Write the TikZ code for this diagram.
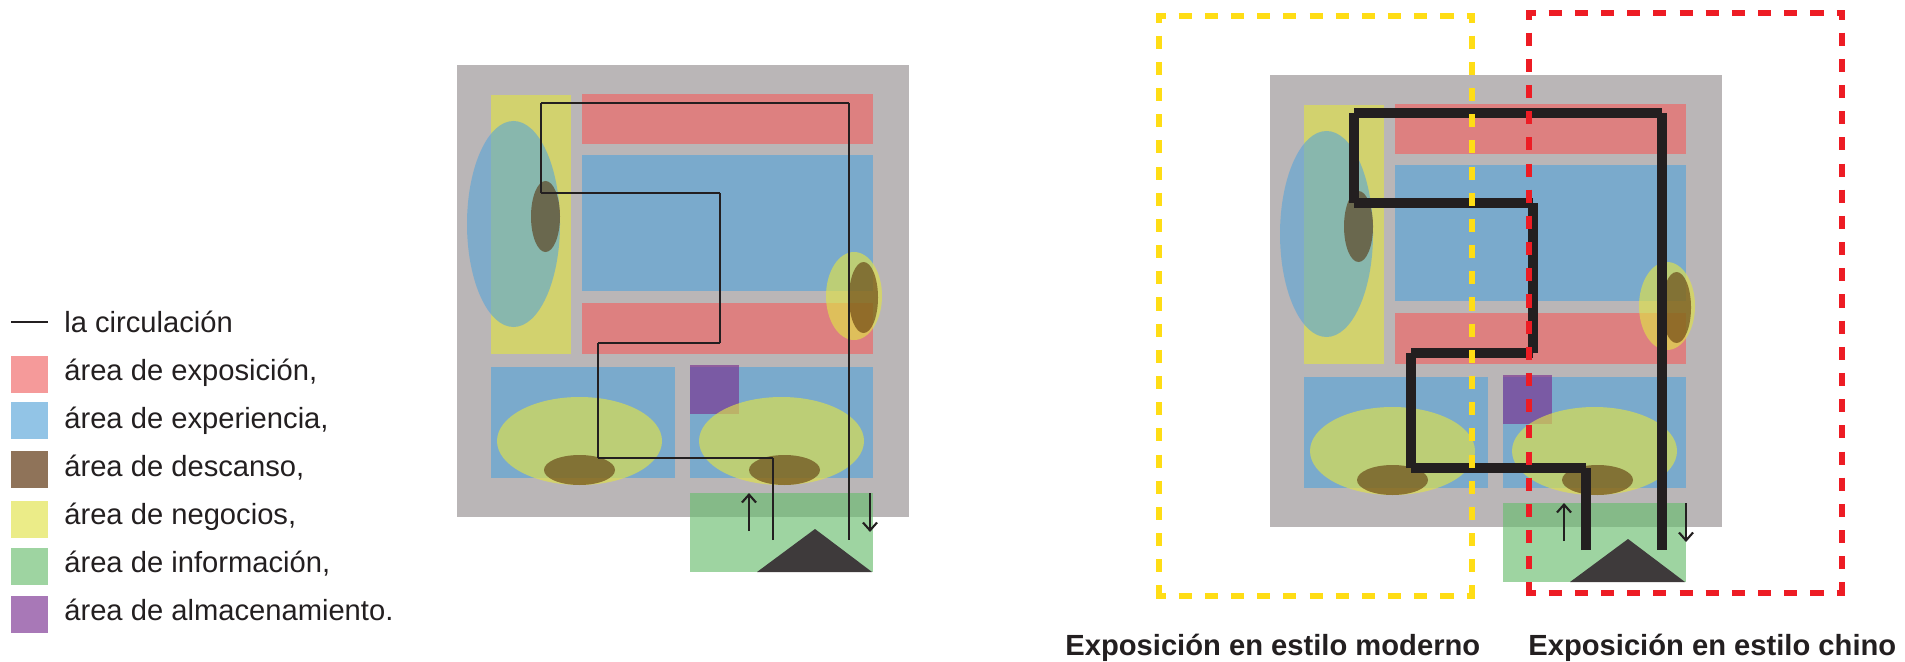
\documentclass[tikz,border=0pt]{standalone}
\usepackage{fontspec}
\setmainfont{Liberation Sans}
\usetikzlibrary{arrows.meta}
\definecolor{plangray}{HTML}{BAB6B7}
\definecolor{expored}{HTML}{F06464}
\definecolor{expblue}{HTML}{58A5D8}
\definecolor{restbrown}{HTML}{532800}
\definecolor{shopyellow}{HTML}{E0E248}
\definecolor{infogreen}{HTML}{6ABD6F}
\definecolor{storepurple}{HTML}{7A3090}
\definecolor{routeblack}{HTML}{231F20}
\definecolor{roofgray}{HTML}{3E3A3B}
\definecolor{framered}{HTML}{ED1C24}
\definecolor{frameyellow}{HTML}{FFDD15}
\tikzset{
  zone/.style={fill=#1, fill opacity=0.65, draw=none},
  softzone/.style={fill=#1, fill opacity=0.6, draw=none},
  restzone/.style={fill=restbrown, fill opacity=0.55, draw=none},
  route/.style={draw=routeblack, line width=#1},
  flow/.style={draw=routeblack, line width=1.2pt, -{Straight Barb[length=4.5pt,width=8pt]}},
  frame/.style={draw=#1, line width=3.1pt, dash pattern=on 7.45pt off 7.45pt, dash phase=2.16pt,
                shorten <=-1.56pt, shorten >=-1.56pt},
  legendtext/.style={anchor=base west, inner sep=0pt, font=\fontsize{16.6}{20}\selectfont, text=routeblack},
  titletext/.style={anchor=base west, inner sep=0pt, font=\fontsize{16.6}{20}\selectfont\bfseries, text=routeblack}
}

\begin{document}
\begin{tikzpicture}[x=0.02cm, y=-0.02cm]
    \useasboundingbox (0,0) rectangle (1905,662);

    % legend
    \coordinate (linestart) at (11,322);
    \coordinate (lineend) at (48,322);
    \draw[route=1.4pt] (linestart) -- (lineend);
    \node[legendtext] (circulacion) at (64,332) {la circulación};
    \foreach \top/\col/\base/\name in {356/expored/380/{área de exposición,},
                                       402/expblue/428/{área de experiencia,},
                                       451/restbrown/476/{área de descanso,},
                                       501/shopyellow/524/{área de negocios,},
                                       548/infogreen/572/{área de información,},
                                       596/storepurple/620/{área de almacenamiento.}} {
        \fill[zone=\col] (11,\top) rectangle +(37,37);
        \node[legendtext] at (64,\base) {\name};
    }

    % both floor plans
    \foreach \dx/\dy/\routew/\inx/\outx in {0/0/1.3pt/749/870, 813/10/6.1pt/751/873} {
        \begin{scope}[shift={(\dx,\dy)}]
            \fill[plangray] (457,65) rectangle (909,517);
            \fill[zone=shopyellow] (491,95) rectangle (571,354);
            \fill[zone=expored] (582,94) rectangle (873,144);
            \fill[zone=expblue] (582,155) rectangle (873,291);
            \fill[zone=expored] (582,303) rectangle (873,354);
            \fill[zone=expblue] (491,367) rectangle (675,478);
            \fill[zone=expblue] (690,367) rectangle (873,478);
            \fill[zone=storepurple] (690,365) rectangle (739,414);
            \fill[softzone=expblue] (513.5,224) ellipse [x radius=46.5, y radius=103];
            \fill[zone=shopyellow] (854,296) ellipse [x radius=28, y radius=44];
            \fill[zone=shopyellow] (579.5,441) ellipse [x radius=82.5, y radius=44];
            \fill[zone=shopyellow] (781.5,441) ellipse [x radius=82.5, y radius=44];
            \fill[restzone] (545.5,216.5) ellipse [x radius=14.5, y radius=35.5];
            \fill[restzone] (863.5,297.5) ellipse [x radius=14.5, y radius=35.5];
            \fill[restzone] (579.5,470) ellipse [x radius=35.5, y radius=15];
            \fill[restzone] (784.5,470) ellipse [x radius=35.5, y radius=15];
            \fill[zone=infogreen] (690,493) rectangle (873,572);
            \fill[roofgray] (757,572) -- (815,529) -- (872,572) -- cycle;

            % circulation, each leg on its own
            \coordinate (r1) at (773,540);
            \coordinate (r2) at (773,458);
            \coordinate (r3) at (598,458);
            \coordinate (r4) at (598,343);
            \coordinate (r5) at (720,343);
            \coordinate (r6) at (720,193);
            \coordinate (r7) at (541,193);
            \coordinate (r8) at (541,103);
            \coordinate (r9) at (849,103);
            \coordinate (r10) at (849,540);
            \draw[route=\routew] (r1) -- (r2) (r2) -- (r3) (r3) -- (r4) (r4) -- (r5) (r5) -- (r6)
                (r6) -- (r7) (r7) -- (r8) (r8) -- (r9) (r9) -- (r10);

            % way in and way out
            \coordinate (in1) at (\inx,531);
            \coordinate (in2) at (\inx,493);
            \coordinate (out1) at (\outx,493);
            \coordinate (out2) at (\outx,532);
            \draw[flow] (in1) -- (in2);
            \draw[flow] (out1) -- (out2);
        \end{scope}
    }

    % style frames
    \coordinate (y1) at (1159,16);
    \coordinate (y2) at (1472,16);
    \coordinate (y3) at (1472,596);
    \coordinate (y4) at (1159,596);
    \coordinate (c1) at (1529,13);
    \coordinate (c2) at (1842,13);
    \coordinate (c3) at (1842,593);
    \coordinate (c4) at (1529,593);
    \foreach \a/\b in {y1/y2, y1/y4, y2/y3, y4/y3}
        \draw[frame=frameyellow] (\a) -- (\b);
    \foreach \a/\b in {c1/c2, c1/c4, c2/c3, c4/c3}
        \draw[frame=framered] (\a) -- (\b);

    \node[titletext] (moderno) at (1065,655) {Exposición en estilo moderno};
    \node[titletext] (chino) at (1528,655) {Exposición en estilo chino};
\end{tikzpicture}
\end{document}
